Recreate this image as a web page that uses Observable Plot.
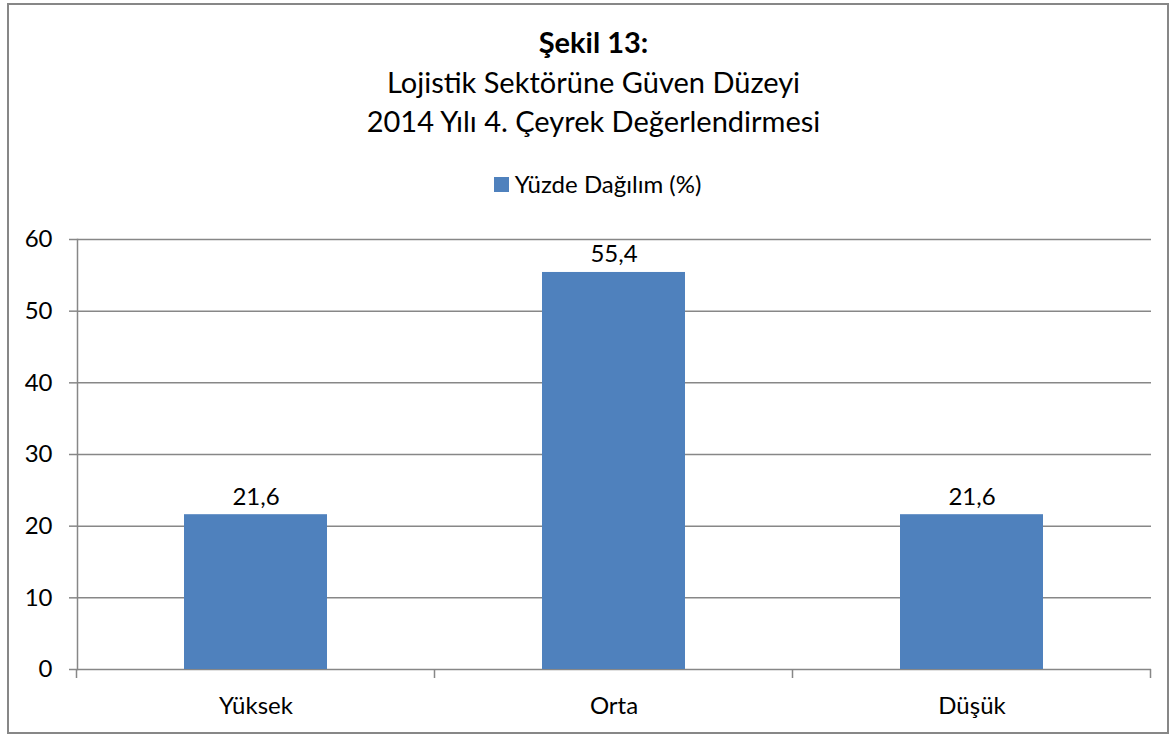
<!DOCTYPE html>
<html>
<head>
<meta charset="utf-8">
<script src="https://cdn.jsdelivr.net/npm/d3@7"></script>
<script src="https://cdn.jsdelivr.net/npm/@observablehq/plot@0.6"></script>
<style>
  html, body { margin: 0; padding: 0; background: #fff; }
  body { width: 1171px; height: 738px; position: relative; overflow: hidden; font-family: Lato, "Open Sans", sans-serif; color: #000; }
  #frame { position: absolute; left: 7px; top: 3px; width: 1162px; height: 731px; border: 2px solid #878787; box-sizing: border-box; }
  .t { position: absolute; left: 8px; width: 1171px; text-align: center; white-space: nowrap; line-height: 1; }
  #legend { position: absolute; top: 172px; left: 12px; width: 1171px; display: flex; justify-content: center; align-items: center; font-size: 24px; line-height: 1; }
  #legend .sw { width: 15px; height: 15px; background: #4F81BD; margin-right: 6px; }
  #chart { position: absolute; left: 0; top: 0; }
</style>
</head>
<body>
<div id="frame"></div>
<div class="t" id="t1" style="top:27px;font-size:29px;font-weight:bold;">Şekil 13:</div>
<div class="t" id="t2" style="top:67px;font-size:29px;">Lojistik Sektörüne Güven Düzeyi</div>
<div class="t" id="t3" style="top:106px;font-size:29px;">2014 Yılı 4. Çeyrek Değerlendirmesi</div>
<div id="legend"><div class="sw"></div><span>Yüzde Dağılım (%)</span></div>
<div id="chart"></div>
<script>
const categories = ["Yüksek", "Orta", "Düşük"];
const values = [21.6, 55.4, 21.6];
const yTicks = [0, 10, 20, 30, 40, 50, 60];
const seriesName = "Yüzde Dağılım (%)";

const data = categories.map((c, i) => ({category: c, value: values[i]}));
const fmt = v => v.toFixed(1).replace(".", ",");
const axisColor = "#878787";

const boundaryTicks = Plot.ruleX(categories, {
  x: d => d,
  render: (index, scales, values2, dimensions) => {
    const x = scales.x, y = scales.y;
    const step = x(categories[1]) - x(categories[0]);
    const bw = x.bandwidth ? x.bandwidth() : 0;
    const g = d3.create("svg:g");
    const y0 = y(0);
    const xs = categories.map(c => x(c) + bw / 2 - step / 2);
    xs.push(x(categories[categories.length - 1]) + bw / 2 + step / 2);
    for (const px of xs) {
      g.append("line")
        .attr("x1", px).attr("x2", px)
        .attr("y1", y0).attr("y2", y0 + 9)
        .attr("stroke", axisColor).attr("stroke-width", 1.5);
    }
    return g.node();
  }
});

const chart = Plot.plot({
  width: 1171,
  height: 738,
  marginTop: 239,
  marginBottom: 69,
  marginLeft: 77,
  marginRight: 20,
  style: {fontFamily: "Lato, 'Open Sans', sans-serif", fontSize: "24px", color: "#000", background: "transparent"},
  x: {domain: categories, paddingInner: 0.6, paddingOuter: 0.3, label: null},
  y: {domain: [0, 60], label: null},
  marks: [
    Plot.gridY(yTicks, {stroke: axisColor, strokeOpacity: 1, strokeWidth: 1.5}),
    Plot.barY(data, {x: "category", y: "value", fill: "#4F81BD"}),
    Plot.frame({anchor: "left", stroke: axisColor, strokeWidth: 1.5}),
    boundaryTicks,
    Plot.axisY(yTicks, {tickSize: 8, tickPadding: 17, stroke: axisColor, strokeWidth: 1.5, fill: "#000", fontSize: 24}),
    Plot.axisX({tickSize: 0, tickPadding: 27, fill: "#000", fontSize: 24}),
    Plot.text(data, {x: "category", y: "value", text: d => fmt(d.value), lineAnchor: "bottom", dy: -10, fill: "#000", fontSize: 24})
  ]
});
document.getElementById("chart").appendChild(chart);
</script>
</body>
</html>
